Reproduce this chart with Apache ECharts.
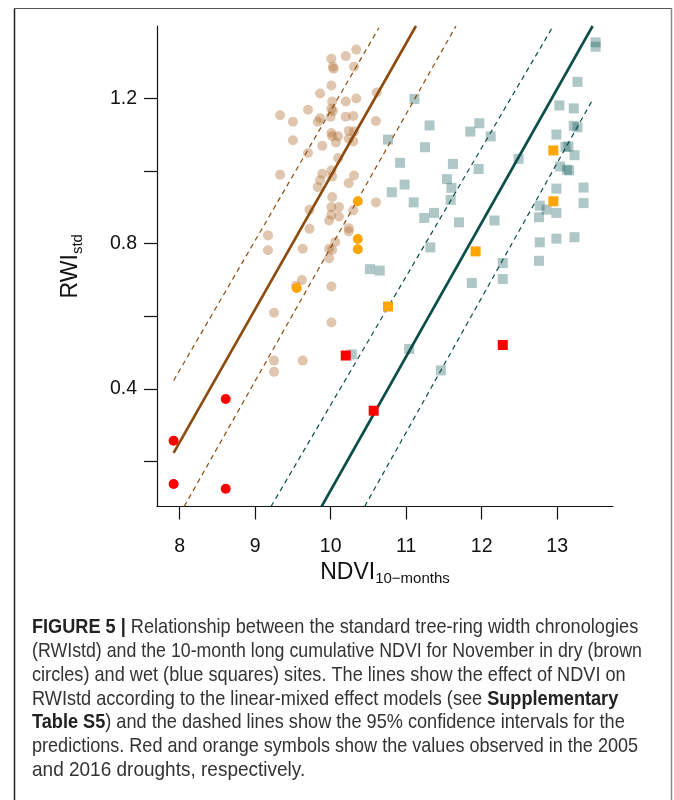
<!DOCTYPE html>
<html>
<head>
<meta charset="utf-8">
<script src="https://cdn.jsdelivr.net/npm/echarts@6/dist/echarts.min.js"></script>
<style>
  html, body { margin: 0; padding: 0; background: #fff; }
  #chart { width: 674px; height: 800px; }
</style>
</head>
<body>
<div id="chart"></div>
<script>
// ---- axis ticks ----
const xTicks = [8, 9, 10, 11, 12, 13];
const yTicks = [0.2, 0.4, 0.6, 0.8, 1.0, 1.2];
const yLabels = [0.4, 0.8, 1.2];

// ---- dry sites (brown circles) [NDVI, RWIstd] ----
const dryPoints = [
  [10.34,1.335],[10.20,1.317],[10.01,1.31],[10.03,1.288],[10.04,1.282],[10.31,1.288],
  [10.01,1.236],[9.86,1.214],[10.61,1.217],[10.34,1.20],[10.20,1.192],[10.02,1.192],
  [10.01,1.172],[10.03,1.166],[9.70,1.169],[9.33,1.154],[9.50,1.136],[9.86,1.146],
  [9.83,1.136],[10.00,1.15],[10.20,1.15],[10.30,1.152],[10.60,1.138],[10.24,1.111],
  [10.31,1.109],[9.50,1.085],[10.01,1.105],[10.02,1.096],[10.10,1.096],[9.89,1.07],
  [10.07,1.079],[10.24,1.089],[10.30,1.082],[9.70,1.05],[10.10,1.036],[9.33,0.99],
  [9.89,0.993],[10.01,1.002],[10.31,0.988],[9.86,0.975],[9.83,0.956],[10.24,0.967],
  [10.02,0.985],[10.02,0.929],[10.01,0.901],[10.11,0.901],[10.01,0.88],[10.11,0.875],
  [10.30,0.892],[10.60,0.914],[9.72,0.894],[9.98,0.864],[9.72,0.841],[10.24,0.843],
  [10.24,0.834],[10.06,0.805],[9.98,0.786],[10.02,0.783],[9.98,0.76],[9.63,0.786],
  [9.17,0.823],[9.17,0.782],[9.62,0.70],[10.01,0.682],[9.25,0.61],[10.01,0.583],
  [9.54,0.684],[9.25,0.478],[9.63,0.478],[9.25,0.447]
];
// ---- wet sites (blue squares) ----
const wetPoints = [
  [13.51,1.355],[13.51,1.343],[13.27,1.246],[13.03,1.181],[13.22,1.173],[13.22,1.125],
  [13.27,1.121],[12.99,1.101],[13.11,1.067],[13.15,1.068],[13.23,1.044],[13.04,1.013],
  [13.13,1.004],[13.16,1.002],[12.99,0.952],[13.35,0.955],[13.35,0.912],[12.77,0.905],
  [12.86,0.894],[12.76,0.873],[12.99,0.885],[12.77,0.804],[12.99,0.814],[13.23,0.818],
  [12.76,0.753],[12.49,1.034],[12.17,0.864],[12.28,0.747],[12.28,0.703],[11.87,0.692],
  [11.96,1.006],[12.12,1.096],[11.97,1.132],[11.85,1.109],[11.62,1.02],[11.54,0.978],
  [11.60,0.954],[11.59,0.921],[11.70,0.859],[11.37,0.885],[11.24,0.871],[11.32,0.79],
  [11.10,0.914],[10.98,0.963],[10.81,0.942],[10.92,1.023],[10.76,1.087],[11.25,1.066],
  [11.31,1.126],[11.11,1.199],[10.52,0.73],[10.65,0.726],[11.04,0.51],[11.46,0.451],
  [10.28,0.495]
];
// ---- drought years ----
const dry2005 = [[7.92,0.257],[8.61,0.372],[7.92,0.138],[8.61,0.125]];
const dry2016 = [[10.36,0.917],[10.36,0.813],[10.36,0.785],[9.55,0.678]];
const wet2005 = [[10.20,0.492],[10.57,0.340],[12.28,0.521]];
const wet2016 = [[10.76,0.627],[11.92,0.779],[12.95,1.057],[12.95,0.917]];

// ---- model fits and 95% CI ----
const dryFit   = [[7.92,0.224],[11.13,1.40]];
const dryUpper = [[7.92,0.423],[10.64,1.395]];
const dryLower = [[8.06,0.076],[11.66,1.40]];
const wetFit   = [[9.88,0.076],[13.47,1.40]];
const wetUpper = [[9.21,0.076],[12.94,1.397]];
const wetLower = [[10.45,0.076],[13.47,1.197]];

const captionLines = [
  '{b|FIGURE 5 |} Relationship between the standard tree-ring width chronologies',
  '(RWIstd) and the 10-month long cumulative NDVI for November in dry (brown',
  'circles) and wet (blue squares) sites. The lines show the effect of NDVI on',
  'RWIstd according to the linear-mixed effect models (see {b|Supplementary}',
  '{b|Table S5}) and the dashed lines show the 95% confidence intervals for the',
  'predictions. Red and orange symbols show the values observed in the 2005',
  'and 2016 droughts, respectively.'
];
const captionScale = [0.955, 0.935, 0.955, 0.955, 0.955, 0.95, 1.0];

const BROWN = '#8c4a0c';
const TEAL = '#0b4d48';
const FONT = '"Liberation Sans", Arimo, Arial, Helvetica, sans-serif';
const CAPSIZE = 19;

function lineSeries(data, color, width, dashed) {
  return {
    type: 'line', data: data, symbol: 'none', silent: true, z: 3,
    lineStyle: { color: color, width: width, type: dashed ? [5, 4] : 'solid' }
  };
}

const captionGraphics = captionLines.map((t, i) => ({
  type: 'text', x: 32, y: 628 + i * 23.7, scaleX: captionScale[i], scaleY: 1.04,
  style: {
    text: t, fill: '#333', fontSize: CAPSIZE, fontFamily: FONT,
    align: 'left', verticalAlign: 'middle',
    rich: { b: { fontWeight: 'bold', fontSize: CAPSIZE, fontFamily: FONT, fill: '#222' } }
  }
}));

const chart = echarts.init(document.getElementById('chart'), null, { renderer: 'canvas' });
chart.setOption({
  animation: false,
  backgroundColor: '#fff',
  textStyle: { fontFamily: FONT },
  grid: { left: 157, right: 61, top: 26, bottom: 293.5, containLabel: false },
  xAxis: {
    type: 'value', min: 7.70, max: 13.74,
    name: '{a|NDVI}{s|10\u2212months}', nameLocation: 'middle', nameGap: 47,
    nameTextStyle: {
      fontFamily: FONT,
      rich: {
        a: { fontSize: 23, fontFamily: FONT, color: '#111' },
        s: { fontSize: 15, fontFamily: FONT, color: '#111', padding: [12, 0, 0, 0] }
      }
    },
    axisLine: { show: true, onZero: false, lineStyle: { color: '#111', width: 1.2 } },
    axisTick: { show: true, length: 13, customValues: xTicks, lineStyle: { color: '#111', width: 1.2 } },
    axisLabel: { customValues: xTicks, margin: 30, fontSize: 19.5, fontFamily: FONT, color: '#111' },
    splitLine: { show: false }
  },
  yAxis: {
    type: 'value', min: 0.076, max: 1.40,
    name: '{a|RWI}{s|std}', nameLocation: 'middle', nameGap: 72, nameRotate: 90,
    nameTextStyle: {
      fontFamily: FONT,
      rich: {
        a: { fontSize: 23, fontFamily: FONT, color: '#111' },
        s: { fontSize: 15, fontFamily: FONT, color: '#111', padding: [13, 0, 0, 0] }
      }
    },
    axisLine: { show: true, onZero: false, lineStyle: { color: '#111', width: 1.2 } },
    axisTick: { show: true, length: 13, customValues: yTicks, lineStyle: { color: '#111', width: 1.2 } },
    axisLabel: { customValues: yLabels, margin: 20, fontSize: 19.5, fontFamily: FONT, color: '#111',
      formatter: v => Number(v).toFixed(1) },
    splitLine: { show: false }
  },
  series: [
    { type: 'scatter', data: dryPoints, symbol: 'circle', symbolSize: 10, z: 2,
      itemStyle: { color: 'rgba(175,110,51,0.49)' } },
    { type: 'scatter', data: wetPoints, symbol: 'rect', symbolSize: 10, z: 2,
      itemStyle: { color: 'rgba(5,80,80,0.4)' } },
    lineSeries(dryFit, BROWN, 2.6, false),
    lineSeries(dryUpper, BROWN, 1.2, true),
    lineSeries(dryLower, BROWN, 1.2, true),
    lineSeries(wetFit, TEAL, 2.6, false),
    lineSeries(wetUpper, TEAL, 1.2, true),
    lineSeries(wetLower, TEAL, 1.2, true),
    { type: 'scatter', data: dry2016, symbol: 'circle', symbolSize: 10, z: 4, itemStyle: { color: '#ffa500', opacity: 1 } },
    { type: 'scatter', data: dry2005, symbol: 'circle', symbolSize: 10, z: 4, itemStyle: { color: '#ff0000', opacity: 1 } },
    { type: 'scatter', data: wet2016, symbol: 'rect', symbolSize: 10, z: 4, itemStyle: { color: '#ffa500', opacity: 1 } },
    { type: 'scatter', data: wet2005, symbol: 'rect', symbolSize: 10, z: 4, itemStyle: { color: '#ff0000', opacity: 1 } }
  ],
  graphic: [
    { type: 'line', shape: { x1: 14.5, y1: 8.5, x2: 14.5, y2: 800 }, style: { stroke: '#222', lineWidth: 1.5 } },
    { type: 'line', shape: { x1: 14, y1: 8.5, x2: 672, y2: 8.5 }, style: { stroke: '#555', lineWidth: 1.2 } },
    { type: 'line', shape: { x1: 671.5, y1: 8, x2: 671.5, y2: 800 }, style: { stroke: '#888', lineWidth: 1.5 } }
  ].concat(captionGraphics)
});
</script>
</body>
</html>
